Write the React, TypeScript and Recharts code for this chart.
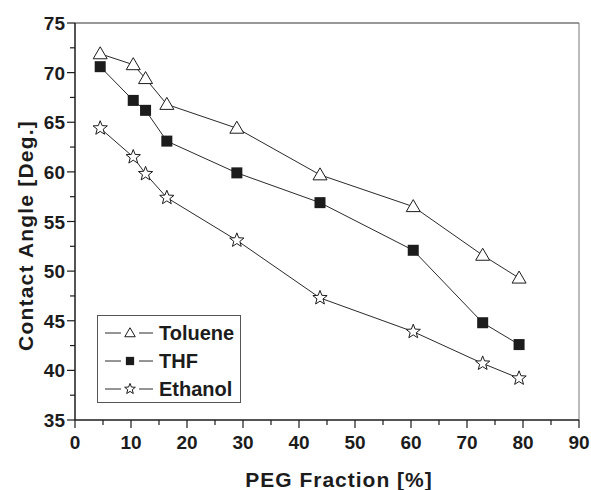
import React from 'react'
import { LineChart, Line, XAxis, YAxis, Legend, ReferenceLine, Label } from 'recharts'

// PEG fraction (%) where each contact angle was measured
const pegFraction = [4.5, 10.4, 12.6, 16.4, 28.9, 43.75, 60.4, 72.8, 79.3]
const toluene = [71.9, 70.8, 69.4, 66.8, 64.4, 59.7, 56.5, 51.6, 49.3]
const thf = [70.6, 67.2, 66.2, 63.1, 59.9, 56.9, 52.1, 44.8, 42.6]
const ethanol = [64.4, 61.5, 59.8, 57.4, 53.1, 47.3, 43.9, 40.7, 39.2]

const xTicks = [0, 5, 10, 15, 20, 25, 30, 35, 40, 45, 50, 55, 60, 65, 70, 75, 80, 85, 90]
const yTicks = [35, 37.5, 40, 42.5, 45, 47.5, 50, 52.5, 55, 57.5, 60, 62.5, 65, 67.5, 70, 72.5, 75]
const legendOrder = ['toluene', 'thf', 'ethanol']

const data = pegFraction.map((x, i) => ({
  x,
  toluene: toluene[i],
  thf: thf[i],
  ethanol: ethanol[i],
}))

const FONT = '"Liberation Sans", Arial, Helvetica, sans-serif'
const INK = '#1c1c1c'
const LINE = '#2a2a2a'

const starPoints = (cx: number, cy: number, ro: number, ri: number) => {
  const pts: string[] = []
  for (let k = 0; k < 10; k++) {
    const r = k % 2 === 0 ? ro : ri
    const a = -Math.PI / 2 + (k * Math.PI) / 5
    pts.push(`${cx + r * Math.cos(a)},${cy + r * Math.sin(a)}`)
  }
  return pts.join(' ')
}

const Triangle = ({ cx, cy, s = 1 }: { cx: number; cy: number; s?: number }) => (
  <polygon
    points={`${cx},${cy - 7 * s} ${cx - 7 * s},${cy + 5 * s} ${cx + 7 * s},${cy + 5 * s}`}
    fill="#fff"
    stroke={INK}
    strokeWidth={1}
  />
)
const Square = ({ cx, cy, s = 1 }: { cx: number; cy: number; s?: number }) => (
  <rect x={cx - 5.5 * s} y={cy - 5.5 * s} width={11 * s} height={11 * s} fill={INK} />
)
const Star = ({ cx, cy, s = 1 }: { cx: number; cy: number; s?: number }) => (
  <polygon points={starPoints(cx, cy, 7.5 * s, 3.2 * s)} fill="#fff" stroke={INK} strokeWidth={1} />
)

const markers: Record<string, (p: { cx: number; cy: number; s?: number }) => React.ReactElement> = {
  toluene: Triangle,
  thf: Square,
  ethanol: Star,
}

const makeDot = (key: string) => (props: any) => {
  const M = markers[key]
  return <M key={`${key}-${props.index}`} cx={props.cx} cy={props.cy} />
}

const XTick = (props: any) => {
  const { x, y, payload } = props
  const major = payload.value % 10 === 0
  return (
    <g>
      <line x1={x} x2={x} y1={y} y2={y + (major ? 8 : 5)} stroke={INK} strokeWidth={1.2} />
      {major && (
        <text x={x} y={y + 29} textAnchor="middle" fontFamily={FONT} fontWeight="bold" fontSize={19} fill={INK}>
          {payload.value}
        </text>
      )}
    </g>
  )
}

const YTick = (props: any) => {
  const { x, y, payload } = props
  const major = payload.value % 5 === 0
  return (
    <g>
      <line x1={x} x2={x - (major ? 8 : 5)} y1={y} y2={y} stroke={INK} strokeWidth={1.2} />
      {major && (
        <text x={x - 10} y={y + 7} textAnchor="end" fontFamily={FONT} fontWeight="bold" fontSize={19} fill={INK}>
          {payload.value}
        </text>
      )}
    </g>
  )
}

const LegendBox = (props: any) => {
  const items = [...(props.payload || [])].sort(
    (a: any, b: any) => legendOrder.indexOf(a.dataKey) - legendOrder.indexOf(b.dataKey)
  )
  return (
    <div style={{ width: 142, height: 86, border: '1px solid #555', background: '#fff' }}>
      <svg width={142} height={86}>
        {items.map((it: any, i: number) => {
          const cy = 17 + i * 28
          const M = markers[it.dataKey]
          return (
            <g key={it.dataKey}>
              <line x1={7} x2={23} y1={cy} y2={cy} stroke={LINE} strokeWidth={1} />
              <line x1={41} x2={55} y1={cy} y2={cy} stroke={LINE} strokeWidth={1} />
              <M cx={32} cy={cy} s={0.75} />
              <text x={61} y={cy + 7} fontFamily={FONT} fontWeight="bold" fontSize={20} fill={INK}>
                {it.value}
              </text>
            </g>
          )
        })}
      </svg>
    </div>
  )
}

export default function App() {
  return (
    <div style={{ position: 'absolute', left: 0, top: 0, background: '#fff' }}>
      <LineChart width={591} height={490} data={data} margin={{ top: 23, right: 12, left: 0, bottom: 0 }}>
        <XAxis
          dataKey="x"
          type="number"
          domain={[0, 90]}
          ticks={xTicks}
          interval={0}
          height={70}
          tickSize={0}
          tickMargin={0}
          tickLine={false}
          tick={<XTick />}
          axisLine={{ stroke: INK, strokeWidth: 1.5 }}
        >
          <Label
            content={({ viewBox }: any) => (
              <text
                x={viewBox.x + viewBox.width / 2 + 12}
                y={viewBox.y + viewBox.height - 3}
                textAnchor="middle"
                fontFamily={FONT}
                fontWeight="bold"
                fontSize={21}
                letterSpacing={1}
                fill={INK}
              >
                PEG Fraction [%]
              </text>
            )}
          />
        </XAxis>
        <YAxis
          type="number"
          domain={[35, 75]}
          ticks={yTicks}
          interval={0}
          width={75}
          tickSize={0}
          tickMargin={0}
          tickLine={false}
          tick={<YTick />}
          axisLine={{ stroke: INK, strokeWidth: 1.5 }}
        >
          <Label
            content={({ viewBox }: any) => {
              const cx = 25
              const cy = viewBox.y + viewBox.height / 2 + 14
              return (
                <text
                  x={cx}
                  y={cy}
                  transform={`rotate(-90, ${cx}, ${cy})`}
                  textAnchor="middle"
                  dominantBaseline="central"
                  fontFamily={FONT}
                  fontWeight="bold"
                  fontSize={21}
                  letterSpacing={1.2}
                  fill={INK}
                >
                  Contact Angle [Deg.]
                </text>
              )
            }}
          />
        </YAxis>
        <ReferenceLine y={75} stroke="#333" strokeWidth={1} />
        <ReferenceLine x={90} stroke="#777" strokeWidth={1} />
        <Legend
          layout="horizontal"
          verticalAlign="middle"
          wrapperStyle={{ left: 97, top: 315, width: 144, height: 88 }}
          content={<LegendBox />}
        />
        <Line
          dataKey="toluene"
          name="Toluene"
          stroke={LINE}
          strokeWidth={1}
          dot={makeDot('toluene')}
          activeDot={false}
          isAnimationActive={false}
        />
        <Line
          dataKey="thf"
          name="THF"
          stroke={LINE}
          strokeWidth={1}
          dot={makeDot('thf')}
          activeDot={false}
          isAnimationActive={false}
        />
        <Line
          dataKey="ethanol"
          name="Ethanol"
          stroke={LINE}
          strokeWidth={1}
          dot={makeDot('ethanol')}
          activeDot={false}
          isAnimationActive={false}
        />
      </LineChart>
    </div>
  )
}
